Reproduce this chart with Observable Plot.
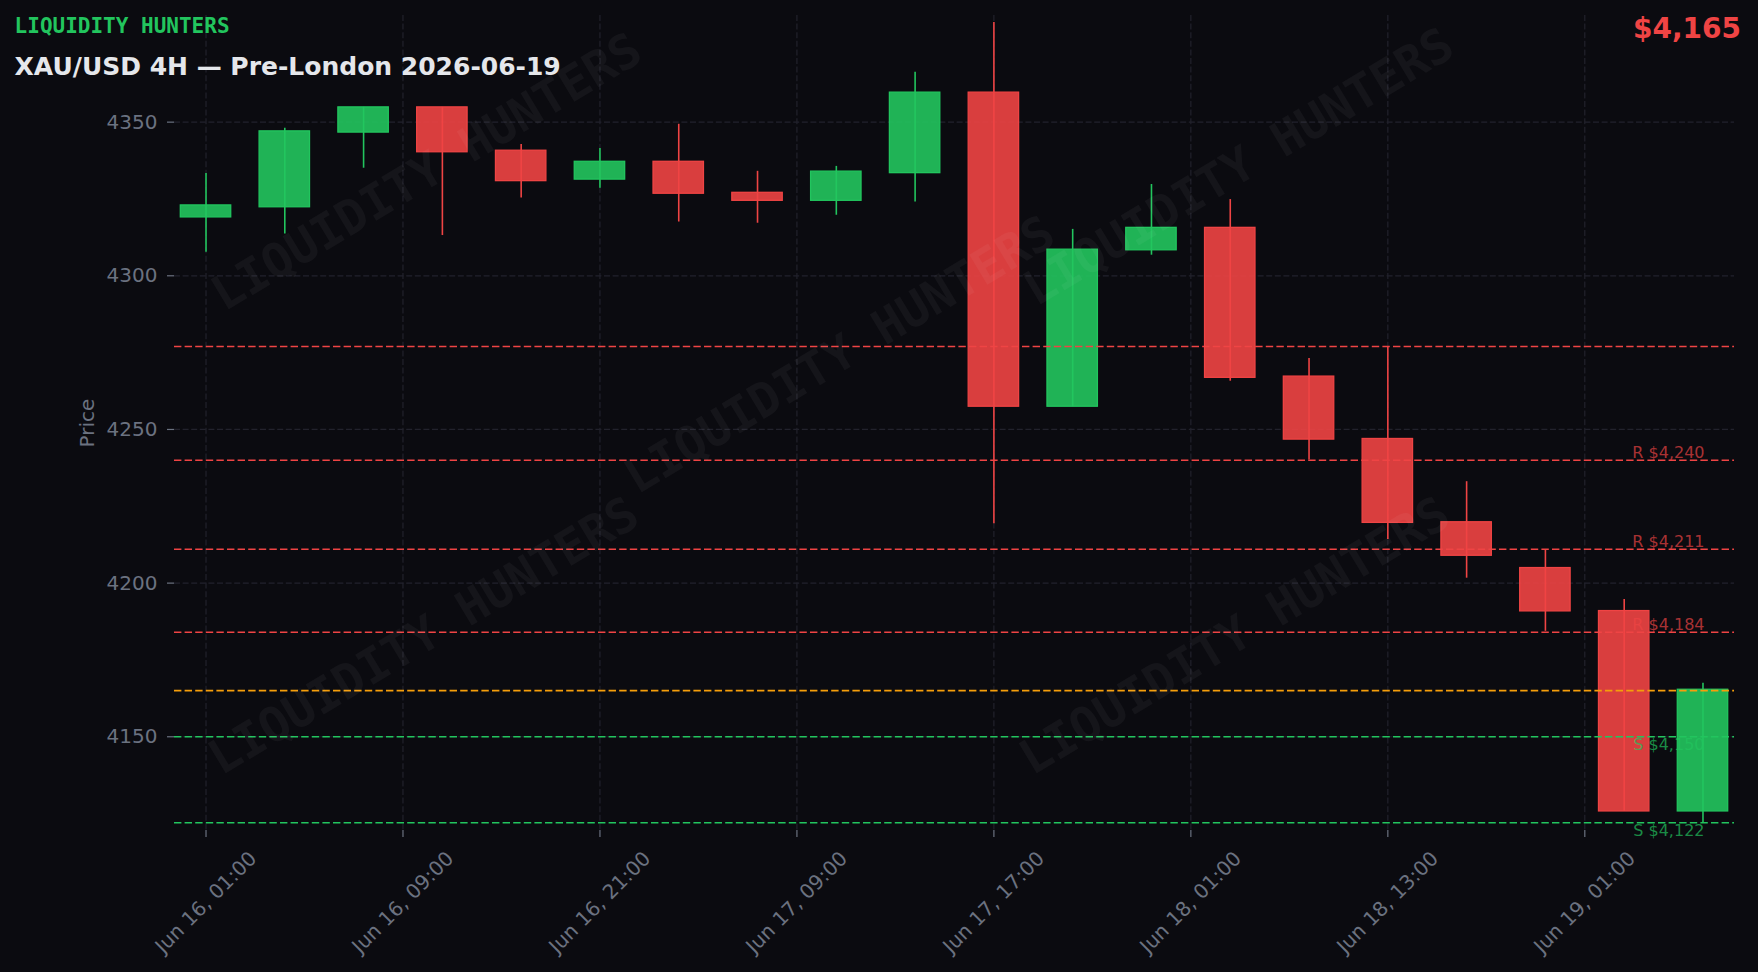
<!DOCTYPE html>
<html>
<head>
<meta charset="utf-8">
<script src="https://cdn.jsdelivr.net/npm/d3@7"></script>
<script src="https://cdn.jsdelivr.net/npm/@observablehq/plot@0.6"></script>
<style>
  html, body { margin: 0; padding: 0; background: #0b0b10; }
  #chart { width: 1758px; height: 972px; }
</style>
</head>
<body>
<div id="chart"></div>
<script>
// ---- data ----
const openP  = [4319.0, 4322.3, 4346.6, 4354.8, 4340.7, 4331.3, 4337.1, 4327.0, 4324.4, 4333.4,
                4359.6, 4257.4, 4308.3, 4315.6, 4267.2, 4246.9, 4219.8, 4204.9, 4190.9, 4125.7];
const highP  = [4333.3, 4348.0, 4354.8, 4354.8, 4342.7, 4341.4, 4349.3, 4334.0, 4335.6, 4366.2,
                4382.4, 4315.1, 4329.7, 4324.8, 4273.1, 4276.8, 4233.0, 4210.9, 4194.7, 4167.4];
const lowP   = [4307.7, 4313.6, 4335.0, 4313.1, 4325.3, 4328.5, 4317.5, 4317.1, 4319.7, 4324.0,
                4219.3, 4257.4, 4306.7, 4265.7, 4240.1, 4214.2, 4201.6, 4184.3, 4125.7, 4122.0];
const closeP = [4322.9, 4347.0, 4354.8, 4340.2, 4330.8, 4337.1, 4326.7, 4324.4, 4333.9, 4359.6,
                4257.4, 4308.5, 4315.6, 4266.8, 4246.7, 4219.6, 4208.9, 4190.8, 4125.7, 4165.3];

const xTickIndex  = [0, 2.5, 5, 7.5, 10, 12.5, 15, 17.5];
const xTickLabels = ["Jun 16, 01:00", "Jun 16, 09:00", "Jun 16, 21:00", "Jun 17, 09:00",
                     "Jun 17, 17:00", "Jun 18, 01:00", "Jun 18, 13:00", "Jun 19, 01:00"];
const yTicks = [4150, 4200, 4250, 4300, 4350];

const resistance = [4277, 4240, 4211, 4184];
const resistanceLabelled = [false, true, true, true];
const support = [4150, 4122];
const currentPrice = 4165;

const brand = "LIQUIDITY HUNTERS";
const title = "XAU/USD 4H — Pre-London 2026-06-19";

// ---- build tables ----
const candles = openP.map((o, i) => ({i, open: o, high: highP[i], low: lowP[i], close: closeP[i]}));
const up = candles.filter(d => d.close >= d.open);
const down = candles.filter(d => d.close < d.open);
const fmt = d3.format(",");
const rLabels = resistance.map((v, k) => ({v, t: `R $${fmt(v)}`, show: resistanceLabelled[k]})).filter(d => d.show);
const sLabels = support.map(v => ({v, t: `S $${fmt(v)}`}));

const GREEN = "#22c55e", RED = "#ef4444", ORANGE = "#f59e0b", GRAY = "#6b7280";
const GRID = "#22222c";
const HW = 0.32;

const plot = Plot.plot({
  width: 1758,
  height: 972,
  marginLeft: 174,
  marginRight: 24,
  marginTop: 15,
  marginBottom: 142,
  x: {domain: [-0.4, 19.4], axis: null},
  y: {domain: [4119.5, 4384.7], axis: null},
  style: {background: "#0b0b10", color: GRAY, fontFamily: "DejaVu Sans", fontSize: "20px", overflow: "visible"},
  marks: [
    Plot.gridY(yTicks, {stroke: GRID, strokeOpacity: 1, strokeWidth: 1.2, strokeDasharray: "6,2.6"}),
    Plot.gridX(xTickIndex, {stroke: GRID, strokeOpacity: 1, strokeWidth: 1.2, strokeDasharray: "6,2.6"}),
    Plot.axisY(yTicks, {tickSize: 7, tickPadding: 10, tickFormat: d3.format("d"), label: null, fontSize: 20, stroke: GRAY, fill: GRAY, strokeWidth: 1.2}),
    Plot.axisX(xTickIndex, {tickSize: 7, tickFormat: () => "", label: null, stroke: GRAY, strokeWidth: 1.2}),
    Plot.text(xTickIndex, {x: d => d, text: (d, k) => xTickLabels[k], frameAnchor: "bottom", dy: 72,
      rotate: -45, textAnchor: "middle", lineAnchor: "middle", fontSize: 20, fill: GRAY}),
    Plot.text(["Price"], {frameAnchor: "left", dx: -87, rotate: -90, textAnchor: "middle", lineAnchor: "middle", fontSize: 20, fill: GRAY}),
    // wicks
    Plot.ruleX(up, {x: "i", y1: "low", y2: "high", stroke: GREEN, strokeWidth: 1.6}),
    Plot.ruleX(down, {x: "i", y1: "low", y2: "high", stroke: RED, strokeWidth: 1.6}),
    // bodies
    Plot.rect(up, {x1: d => d.i - HW, x2: d => d.i + HW, y1: "open", y2: "close", fill: GREEN, fillOpacity: 0.9, stroke: GREEN, strokeWidth: 1.3}),
    Plot.rect(down, {x1: d => d.i - HW, x2: d => d.i + HW, y1: "open", y2: "close", fill: RED, fillOpacity: 0.9, stroke: RED, strokeWidth: 1.3}),
    // levels
    Plot.ruleY(resistance, {stroke: RED, strokeWidth: 1.6, strokeDasharray: "7.4,3.2"}),
    Plot.ruleY([currentPrice], {stroke: ORANGE, strokeWidth: 1.6, strokeDasharray: "7.4,3.2"}),
    Plot.ruleY(support, {stroke: GREEN, strokeWidth: 1.6, strokeDasharray: "7.4,3.2"}),
    Plot.text(rLabels, {y: "v", text: "t", frameAnchor: "right", dx: -30, dy: -2.5, textAnchor: "end", lineAnchor: "bottom",
      fontSize: 16, fill: RED, fillOpacity: 0.7}),
    Plot.text(sLabels, {y: "v", text: "t", frameAnchor: "right", dx: -30, dy: 13.3, textAnchor: "end", lineAnchor: "bottom",
      fontSize: 16, fill: GREEN, fillOpacity: 0.7})
  ]
});

const svg = d3.select(plot);
// watermark
const wm = svg.append("g").attr("pointer-events", "none");
[[426, 171], [839, 354], [1238, 166], [423, 635], [1234, 635]].forEach(([cx, cy]) => {
  wm.append("text")
    .attr("transform", `translate(${cx},${cy}) rotate(-31)`)
    .attr("text-anchor", "middle")
    .attr("dominant-baseline", "central")
    .attr("font-family", "DejaVu Sans Mono")
    .attr("font-weight", "bold")
    .attr("font-size", 48)
    .attr("fill", "#ffffff")
    .attr("fill-opacity", 0.045)
    .text(brand);
});
// header
const hdr = svg.append("g").attr("text-anchor", "start");
hdr.append("text").attr("x", 14.6).attr("y", 33.4).attr("text-anchor", "start")
  .attr("font-family", "DejaVu Sans Mono").attr("font-weight", "bold").attr("font-size", 21)
  .attr("fill", GREEN).text(brand);
hdr.append("text").attr("x", 14.6).attr("y", 74.5).attr("text-anchor", "start")
  .attr("font-family", "DejaVu Sans").attr("font-weight", "bold").attr("font-size", 25)
  .attr("fill", "#e5e7eb").text(title);
hdr.append("text").attr("x", 1741).attr("y", 37.7).attr("text-anchor", "end")
  .attr("font-family", "DejaVu Sans").attr("font-weight", "bold").attr("font-size", 28)
  .attr("fill", RED).text(`$${fmt(Math.round(closeP[closeP.length - 1] - 0.4))}`);

document.getElementById("chart").appendChild(plot);
</script>
</body>
</html>
